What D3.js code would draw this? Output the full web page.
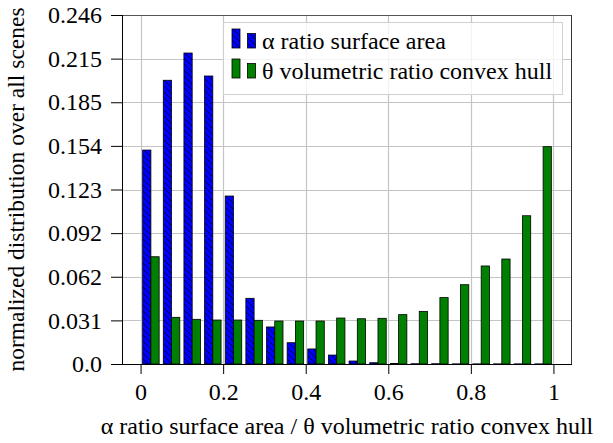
<!DOCTYPE html>
<html><head><meta charset="utf-8">
<script src="https://cdn.jsdelivr.net/npm/d3@7"></script>
<style>body{margin:0;background:#fff;} svg{display:block;} svg text{font-family:"Liberation Serif","Times New Roman",serif !important;}</style>
</head><body>
<svg id="chart" width="613" height="443"></svg>
<script>
const binCenters = [0.025,0.075,0.125,0.175,0.225,0.275,0.325,0.375,0.425,0.475,0.525,0.575,0.625,0.675,0.725,0.775,0.825,0.875,0.925,0.975];
const alphaValues = [0.1508,0.2000,0.2192,0.2030,0.1184,0.0463,0.0261,0.0150,0.0106,0.0063,0.0021,0.0009,0.0004,0.0002,0.0002,0.0001,0.0001,0.0001,0.0001,0.0001];
const thetaValues = [0.0756,0.0329,0.0315,0.0310,0.0310,0.0308,0.0303,0.0303,0.0303,0.0324,0.0319,0.0322,0.0348,0.0371,0.0468,0.0559,0.0691,0.0740,0.1045,0.1532];
const seriesNames = ["\u03b1 ratio surface area","\u03b8 volumetric ratio convex hull"];
const yTickValues = [0,0.03075,0.0615,0.09225,0.123,0.15375,0.1845,0.21525,0.246];
const yTickLabels = ["0.0","0.031","0.062","0.092","0.123","0.154","0.185","0.215","0.246"];
const xTickValues = [0,0.2,0.4,0.6,0.8,1];
const xTickLabels = ["0","0.2","0.4","0.6","0.8","1"];
const xLabel = "\u03b1 ratio surface area / \u03b8 volumetric ratio convex hull";
const yLabel = "normalized distribution over all scenes";

const FONT = "'Liberation Serif','Times New Roman',serif";
const FS = 24;
const svg = d3.select("#chart");
const L=122, T=15, R=572, B=364;
const x = d3.scaleLinear().domain([-0.045,1.045]).range([L,R]);
const y = d3.scaleLinear().domain([0,0.246]).range([B,T]);
const barW = 0.02;

const defs = svg.append("defs");
const pat = defs.append("pattern").attr("id","hatch").attr("patternUnits","userSpaceOnUse")
  .attr("width",6).attr("height",6);
pat.append("rect").attr("width",6).attr("height",6).attr("fill","#0000ff");
pat.append("path").attr("d","M-1,-1 L7,7 M-1,5 L1,7 M5,-1 L7,1").attr("stroke","#000").attr("stroke-width",0.7);

// grid
const grid = svg.append("g").attr("stroke","#c4c4c4").attr("stroke-width",1.2);
grid.selectAll("line.h").data(yTickValues.slice(1)).join("line")
  .attr("x1",L).attr("x2",R).attr("y1",d=>Math.round(y(d))+0.5).attr("y2",d=>Math.round(y(d))+0.5);
grid.selectAll("line.v").data(xTickValues).join("line")
  .attr("y1",T).attr("y2",B).attr("x1",d=>Math.round(x(d))+0.5).attr("x2",d=>Math.round(x(d))+0.5);

// bars
const data = binCenters.map((c,i)=>({c,a:alphaValues[i],t:thetaValues[i]}));
svg.append("g").selectAll("rect").data(data).join("rect")
  .attr("x",d=>x(d.c-barW)).attr("width",x(barW)-x(0))
  .attr("y",d=>y(d.a)).attr("height",d=>y(0)-y(d.a))
  .attr("fill","url(#hatch)").attr("stroke","#000").attr("stroke-width",0.8);
svg.append("g").selectAll("rect").data(data).join("rect")
  .attr("x",d=>x(d.c)).attr("width",x(barW)-x(0))
  .attr("y",d=>y(d.t)).attr("height",d=>y(0)-y(d.t))
  .attr("fill","#008000").attr("stroke","#000").attr("stroke-width",0.8);

// frame
svg.append("line").attr("x1",L).attr("x2",R).attr("y1",T+0.5).attr("y2",T+0.5).attr("stroke","#555");
svg.append("line").attr("x1",R-0.5).attr("x2",R-0.5).attr("y1",T).attr("y2",B).attr("stroke","#333");

// axes
const xAxis = d3.axisBottom(x).tickValues(xTickValues).tickFormat((d,i)=>xTickLabels[i]).tickSize(10).tickPadding(9);
const gx = svg.append("g").attr("transform",`translate(0,${B})`).call(xAxis);
gx.attr("font-family",FONT).attr("font-size",FS);
gx.select(".domain").attr("d",`M${L},0.5H${R}`).attr("stroke","#000");
gx.selectAll("text").style("font-family",FONT).style("font-size",FS+"px").attr("fill","#000");
const yAxis = d3.axisLeft(y).tickValues(yTickValues).tickFormat((d,i)=>yTickLabels[i]).tickSize(11).tickPadding(9);
const gy = svg.append("g").attr("transform",`translate(${L},0)`).call(yAxis);
gy.attr("font-family",FONT).attr("font-size",FS);
gy.select(".domain").attr("d",`M0.5,${B}V${T}`).attr("stroke","#000");
gy.selectAll("text").style("font-family",FONT).style("font-size",FS+"px").attr("fill","#000");

svg.append("text").attr("x",(L+R)/2).attr("y",434).attr("text-anchor","middle")
  .style("font-family",FONT).style("font-size",FS+"px").text(xLabel);
svg.append("text").attr("transform",`translate(24,${(T+B)/2}) rotate(-90)`).attr("text-anchor","middle")
  .style("font-family",FONT).style("font-size",(FS-0.5)+"px").text(yLabel);

// legend
const lg = svg.append("g");
lg.append("rect").attr("x",223.5).attr("y",22.5).attr("width",339).attr("height",72)
  .attr("fill","#fff").attr("fill-opacity",0.8).attr("stroke","#d0d0d0");
const fills = ["url(#hatch)","#008000"];
seriesNames.forEach((n,i)=>{
  const yy = 29 + i*30;
  lg.append("rect").attr("x",232).attr("y",yy).attr("width",8).attr("height",19).attr("fill",fills[i]).attr("stroke","#000").attr("stroke-width",0.8);
  lg.append("rect").attr("x",247.5).attr("y",yy+4.5).attr("width",8).attr("height",14.5).attr("fill",fills[i]).attr("stroke","#000").attr("stroke-width",0.8);
  lg.append("text").attr("x",262).attr("y",yy+20).style("font-family",FONT).style("font-size",FS+"px").text(n);
});
</script>
</body></html>
